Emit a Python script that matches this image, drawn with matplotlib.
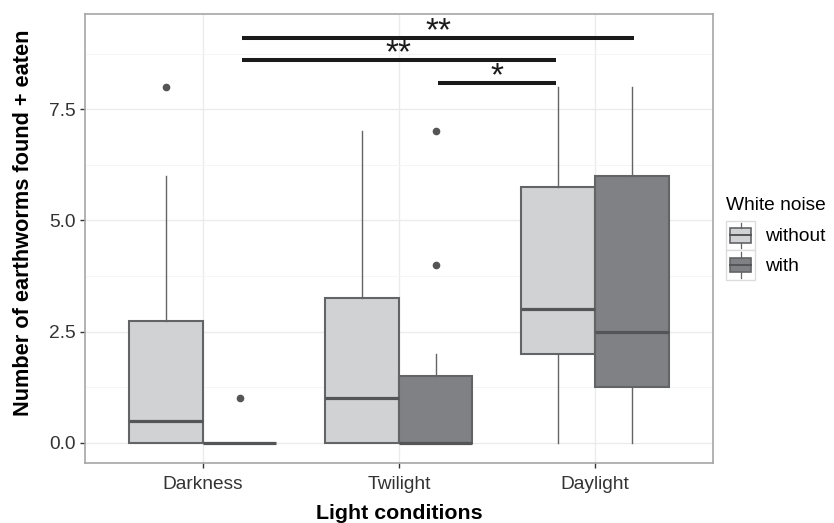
#! python3
# plot.py - earthworm boxplot by light condition and white noise

import matplotlib
matplotlib.use('Agg')
import matplotlib.pyplot as plt
from matplotlib.patches import Rectangle, Patch
from matplotlib.lines import Line2D
from matplotlib.legend_handler import HandlerBase
from matplotlib.ticker import MultipleLocator

plt.rcParams['font.family'] = ['Liberation Sans', 'DejaVu Sans']

# data
conditions = ['Darkness', 'Twilight', 'Daylight']
noise_groups = ['without', 'with']

q1 = {'without': [0, 0, 2], 'with': [0, 0, 1.25]}
median = {'without': [0.5, 1, 3], 'with': [0, 0, 2.5]}
q3 = {'without': [2.75, 3.25, 5.75], 'with': [0, 1.5, 6]}
whis_lo = {'without': [0, 0, 0], 'with': [0, 0, 0]}
whis_hi = {'without': [6, 7, 8], 'with': [0, 2, 8]}
outliers = {'without': [[8], [], []], 'with': [[1], [4, 7], []]}

# significance brackets: (x start, x end, y, label)
sig_x0 = [1.2, 1.2, 2.2]
sig_x1 = [3.2, 2.8, 2.8]
sig_y = [9.1, 8.6, 8.1]
sig_labels = ['**', '**', '*']

fills = {'without': '#d1d2d4', 'with': '#808184'}
EDGE = '#636466'
MED = '#545557'


class BoxHandler(HandlerBase):
    """Draw a little boxplot glyph as the legend key (ggplot style)."""
    def create_artists(self, legend, orig_handle, xdescent, ydescent,
                       width, height, fontsize, trans):
        x0, y0 = -xdescent, -ydescent
        cx, cy = x0 + width / 2, y0 + height / 2
        bg = Rectangle((x0, y0), width, height, fc='white', ec='#dcdcdc',
                       lw=1, transform=trans)
        box = Rectangle((x0 + width * 0.14, y0 + height * 0.25), width * 0.72,
                        height * 0.5, fc=orig_handle.get_facecolor(), ec=EDGE,
                        lw=1.2, transform=trans)
        med = Line2D([x0 + width * 0.14, x0 + width * 0.86], [cy, cy],
                     color=MED, lw=1.4, transform=trans)
        wt = Line2D([cx, cx], [y0 + height * 0.75, y0 + height * 0.93],
                    color=EDGE, lw=0.9, transform=trans)
        wb = Line2D([cx, cx], [y0 + height * 0.07, y0 + height * 0.25],
                    color=EDGE, lw=0.9, transform=trans)
        return [bg, box, med, wt, wb]


fig = plt.figure(figsize=(8.34, 5.23), dpi=100)
ax = fig.add_axes([0.102, 0.1147, 0.7526, 0.8585])

width = 0.375
offsets = {'without': -width / 2, 'with': width / 2}
for g in noise_groups:
    stats = []
    for i in range(len(conditions)):
        stats.append({'med': median[g][i], 'q1': q1[g][i], 'q3': q3[g][i],
                      'whislo': whis_lo[g][i], 'whishi': whis_hi[g][i],
                      'fliers': outliers[g][i]})
    pos = [i + 1 + offsets[g] for i in range(len(conditions))]
    ax.bxp(stats, positions=pos, widths=width, patch_artist=True,
           showcaps=False, manage_ticks=False,
           boxprops=dict(facecolor=fills[g], edgecolor=EDGE, linewidth=1.5),
           medianprops=dict(color=MED, linewidth=2.3, solid_capstyle='butt'),
           whiskerprops=dict(color=EDGE, linewidth=1.0),
           flierprops=dict(marker='o', markersize=4.5, markerfacecolor='#555555',
                           markeredgecolor='#555555'),
           zorder=3)

# significance bars
for x0, x1, y, lab in zip(sig_x0, sig_x1, sig_y, sig_labels):
    ax.plot([x0, x1], [y, y], color='#1a1a1a', lw=2.9, solid_capstyle='butt',
            zorder=4)
    ax.text((x0 + x1) / 2, y - 0.05, lab, ha='center', va='baseline',
            fontsize=24, color='#1a1a1a', zorder=4)

ax.set_xlim(0.4, 3.6)
ax.set_xticks(range(1, len(conditions) + 1))
ax.set_xticklabels(conditions)
ax.yaxis.set_minor_locator(MultipleLocator(1.25))
ax.set_yticks([0, 2.5, 5.0, 7.5])
ax.set_yticklabels(['0.0', '2.5', '5.0', '7.5'])
ax.set_ylim(-0.45, 9.64)

ax.grid(True, which='major', color='#ebebeb', lw=1.0, zorder=0)
ax.grid(True, which='minor', axis='y', color='#f4f4f4', lw=0.6, zorder=0)
ax.set_axisbelow(True)
for s in ax.spines.values():
    s.set_color('#a6a6a6')
    s.set_linewidth(1.2)
ax.tick_params(which='major', length=3.5, width=1, color='#333333',
               labelsize=13.8, labelcolor='#333333')
ax.tick_params(axis='x', pad=6)
ax.tick_params(which='minor', length=0)

ax.set_xlabel('Light conditions', fontsize=15.4, fontweight='bold', labelpad=8)
ax.set_ylabel('Number of earthworms found + eaten', fontsize=15.7,
              fontweight='bold')
ax.yaxis.set_label_coords(-0.081, 0.5345)

handles = [Patch(facecolor=fills[g], edgecolor=EDGE) for g in noise_groups]
leg = fig.legend(handles, noise_groups, title='White noise',
                 handler_map={Patch: BoxHandler()},
                 loc='upper left', bbox_to_anchor=(0.871, 0.624),
                 frameon=False, fontsize=13.8, title_fontsize=13.8,
                 handlelength=1.5, handleheight=2.0, labelspacing=0.0,
                 handletextpad=0.5, borderpad=0, borderaxespad=0)
leg._legend_box.align = 'left'
leg._legend_box.sep = 5  # gap between title and keys

fig.savefig('out.png', dpi=100)
